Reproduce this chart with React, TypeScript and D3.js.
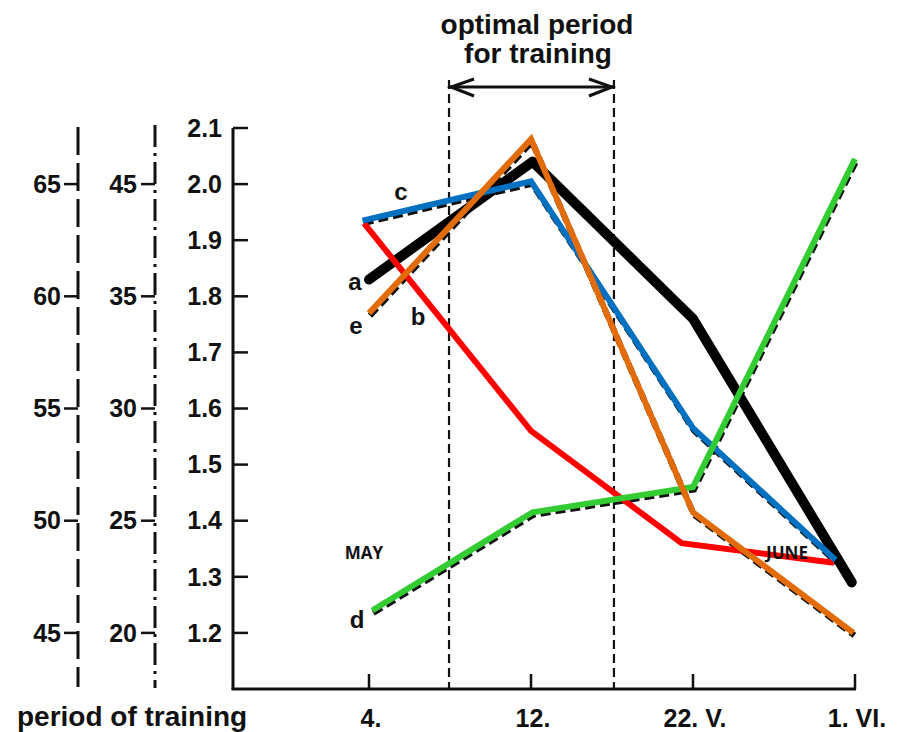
import React from "react";
import * as d3 from "d3";

const categories = ["4.", "12.", "22. V.", "1. VI."];
const mainTicks = [2.1, 2.0, 1.9, 1.8, 1.7, 1.6, 1.5, 1.4, 1.3, 1.2];
const outerTickLabels = ["65", "60", "55", "50", "45"];
const innerTickLabels = ["45", "35", "30", "25", "20"];
const secondaryTickAt = [2.0, 1.8, 1.6, 1.4, 1.2];
const optimalPeriod = [0.494, 1.512];

const seriesA_x = [0.0, 1.01, 2.0, 2.98];
const seriesA_y = [1.83, 2.04, 1.76, 1.29];
const seriesB_x = [-0.03, 1.0, 1.93, 2.87];
const seriesB_y = [1.93, 1.56, 1.36, 1.325];
const seriesC_x = [-0.04, 1.0, 2.0, 2.88];
const seriesC_y = [1.935, 2.005, 1.565, 1.33];
const seriesD_x = [0.02, 1.01, 2.0, 3.0];
const seriesD_y = [1.24, 1.415, 1.46, 2.045];
const seriesE_x = [0.0, 1.0, 2.0, 2.99];
const seriesE_y = [1.77, 2.08, 1.415, 1.2];

const FONT = "'Liberation Sans', Arial, sans-serif";
const INK = "#111";

export default function App() {
  const x = d3.scaleLinear().domain([0, 3]).range([369, 855]);
  const y = d3.scaleLinear().domain([1.1, 2.1]).range([689, 128]);
  const line = d3
    .line<[number, number]>()
    .x((d) => x(d[0]))
    .y((d) => y(d[1]));
  const pts = (xs: number[], ys: number[]) => xs.map((v, i) => [v, ys[i]] as [number, number]);

  const axisBottom = 689;
  const axisLeft = 233;

  const colored = [
    { xs: seriesB_x, ys: seriesB_y, color: "#FF0000" },
    { xs: seriesC_x, ys: seriesC_y, color: "#0070C0" },
    { xs: seriesD_x, ys: seriesD_y, color: "#33CC33" },
    { xs: seriesE_x, ys: seriesE_y, color: "#E36C0A" },
  ];

  const letter = (t: string, lx: number, ly: number) => (
    <text x={lx} y={ly} dy="0.35em" textAnchor="middle" fontFamily={FONT} fontWeight="bold" fontSize={24} fill={INK}>
      {t}
    </text>
  );

  const xl = x(optimalPeriod[0]);
  const xr = x(optimalPeriod[1]);

  return (
    <svg width={923} height={732} style={{ display: "block", position: "absolute", left: 0, top: 0, background: "#fff" }}>
      <rect x={0} y={0} width={923} height={732} fill="#fff" />
      {/* Title */}
      <text x={537} y={34} textAnchor="middle" fontFamily={FONT} fontWeight="bold" fontSize={28} fill={INK}>
        optimal period
      </text>
      <text x={538} y={63} textAnchor="middle" fontFamily={FONT} fontWeight="bold" fontSize={28} fill={INK}>
        for training
      </text>
      {/* arrow */}
      <line x1={xl} x2={xr} y1={87} y2={87} stroke={INK} strokeWidth={3} />
      <path d={`M${xl + 25},${79} L${xl + 2},${87} L${xl + 25},${96}`} fill="none" stroke={INK} strokeWidth={3} />
      <path d={`M${xr - 25},${79} L${xr - 2},${87} L${xr - 25},${96}`} fill="none" stroke={INK} strokeWidth={3} />
      {optimalPeriod.map((p, i) => (
        <line key={i} x1={x(p)} x2={x(p)} y1={80} y2={axisBottom} stroke={INK} strokeWidth={2.2} strokeDasharray="9,5" />
      ))}

      {/* Outer left axis (dashed) */}
      <line x1={78} x2={78} y1={127} y2={687} stroke={INK} strokeWidth={3} strokeDasharray="28,8" />
      {outerTickLabels.map((t, i) => (
        <g key={t + i}>
          <line x1={64} x2={78} y1={y(secondaryTickAt[i])} y2={y(secondaryTickAt[i])} stroke={INK} strokeWidth={2.5} />
          <text x={61} y={y(secondaryTickAt[i])} dy="0.35em" textAnchor="end" fontFamily={FONT} fontWeight="bold" fontSize={25} fill={INK}>
            {t}
          </text>
        </g>
      ))}
      {/* Inner left axis (dash-dot) */}
      <line x1={155} x2={155} y1={125} y2={688} stroke={INK} strokeWidth={3} strokeDasharray="22,6,3,6" />
      {innerTickLabels.map((t, i) => (
        <g key={t + "i" + i}>
          <line x1={141} x2={155} y1={y(secondaryTickAt[i])} y2={y(secondaryTickAt[i])} stroke={INK} strokeWidth={2.5} />
          <text x={137} y={y(secondaryTickAt[i])} dy="0.35em" textAnchor="end" fontFamily={FONT} fontWeight="bold" fontSize={25} fill={INK}>
            {t}
          </text>
        </g>
      ))}

      {/* Main y axis */}
      <line x1={axisLeft} x2={axisLeft} y1={y(2.1)} y2={axisBottom} stroke={INK} strokeWidth={3} />
      {mainTicks.map((t) => (
        <g key={t}>
          <line x1={axisLeft} x2={axisLeft + 15} y1={y(t)} y2={y(t)} stroke={INK} strokeWidth={2.5} />
          <text x={222} y={y(t)} dy="0.35em" textAnchor="end" fontFamily={FONT} fontWeight="bold" fontSize={25} fill={INK}>
            {t.toFixed(1)}
          </text>
        </g>
      ))}

      {/* X axis */}
      <line x1={axisLeft - 1.5} x2={x(3) + 1} y1={axisBottom} y2={axisBottom} stroke={INK} strokeWidth={3} />
      {categories.map((c, i) => (
        <g key={c}>
          <line x1={x(i)} x2={x(i)} y1={axisBottom} y2={axisBottom - 15} stroke={INK} strokeWidth={2.5} />
          <text x={x(i) + (i === 0 ? 2 : 2)} y={727} textAnchor="middle" fontFamily={FONT} fontWeight="bold" fontSize={25} fill={INK}>
            {c}
          </text>
        </g>
      ))}
      <text x={17} y={726} fontFamily={FONT} fontWeight="bold" fontSize={28} fill={INK}>
        period of training
      </text>

      {/* original dashed black lines beneath colour overlays */}
      {[colored[1], colored[2], colored[3]].map((s, i) => (
        <path
          key={"dash" + i}
          d={line(pts(s.xs, s.ys)) || ""}
          transform="translate(1,2.5)"
          fill="none"
          stroke={INK}
          strokeWidth={6}
          strokeDasharray="10,5"
        />
      ))}

      {/* Series a: thick black */}
      <path
        d={line(pts(seriesA_x, seriesA_y)) || ""}
        fill="none"
        stroke="#000"
        strokeWidth={10}
        strokeLinecap="round"
        strokeLinejoin="round"
      />

      {/* coloured series */}
      {colored.map((s, i) => (
        <path key={i} d={line(pts(s.xs, s.ys)) || ""} fill="none" stroke={s.color} strokeWidth={6} strokeLinejoin="miter" />
      ))}

      {/* series letters */}
      {letter("a", 355, 282)}
      {letter("b", 418, 317)}
      {letter("c", 401, 192)}
      {letter("d", 357, 620)}
      {letter("e", 356, 326)}

      <text x={364} y={553} dy="0.35em" textAnchor="middle" fontFamily="'Open Sans', 'Noto Sans', sans-serif" fontWeight="bold" fontSize={17} fill={INK}>
        MAY
      </text>
      <text x={787} y={553} dy="0.35em" textAnchor="middle" fontFamily="'Open Sans', 'Noto Sans', sans-serif" fontWeight="bold" fontSize={17} fill={INK}>
        JUNE
      </text>
    </svg>
  );
}
